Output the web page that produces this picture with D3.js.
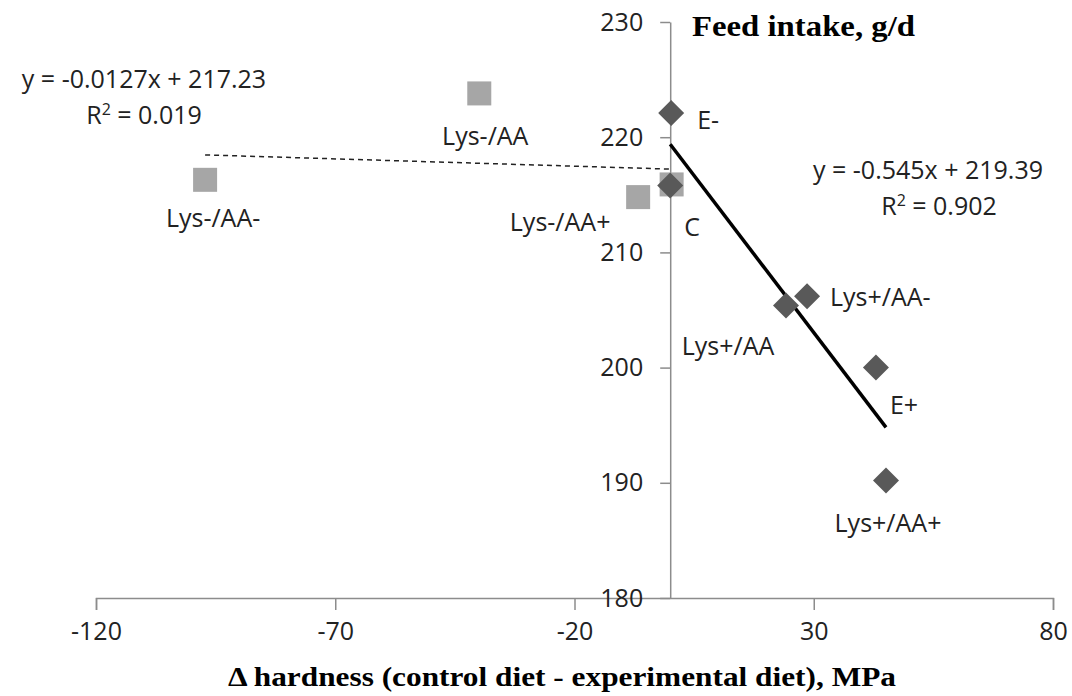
<!DOCTYPE html>
<html>
<head>
<meta charset="utf-8">
<script src="https://cdn.jsdelivr.net/npm/d3@7"></script>
<style>
  body { margin: 0; background: #fff; }
  text { font-family: "Open Sans", "Liberation Sans", sans-serif; }
</style>
</head>
<body>
<div id="chart"></div>
<script>
// diets with harder / softer pellets than control
const diamondLabels = ["E-", "C", "Lys+/AA", "Lys+/AA-", "E+", "Lys+/AA+"];
const diamondX = [0.2, 0.0, 24.2, 28.6, 43.0, 45.1];
const diamondY = [222.1, 215.8, 205.4, 206.2, 200.0, 190.2];

const squareLabels = ["Lys-/AA-", "Lys-/AA", "Lys-/AA+", ""];
const squareX = [-97.2, -39.9, -6.7, 0.3];
const squareY = [216.3, 223.8, 214.8, 215.9];

const xTicks = [-120, -70, -20, 30, 80];
const yTicks = [180, 190, 200, 210, 220, 230];

// trend lines as printed in the figure
const fitDiamond = { slope: -0.545, icept: 219.39, eq: "y = -0.545x + 219.39", r2: "0.902" };
const fitSquare = { slope: -0.0127, icept: 217.23, eq: "y = -0.0127x + 217.23", r2: "0.019" };

const W = 1072, H = 696;
const FS = 25;
const svg = d3.select("#chart").append("svg")
  .attr("width", W).attr("height", H);

const x = d3.scaleLinear().domain([-120, 80]).range([96, 1053]);
const y = d3.scaleLinear().domain([180, 230]).range([598, 22]);

const axisColor = "#8c8c8c";
const plainNum = d => String(d); // hyphen minus, like Excel

// x axis at y = 180
const gx = svg.append("g")
  .attr("transform", `translate(0,${y(180)})`)
  .call(d3.axisBottom(x).tickValues(xTicks).tickSize(12).tickPadding(12).tickFormat(plainNum));
gx.select(".domain").attr("stroke", axisColor).attr("stroke-width", 1.5);
gx.selectAll(".tick line").attr("stroke", axisColor).attr("stroke-width", 1.5);
gx.selectAll(".tick text").attr("font-size", FS).attr("fill", "#222")
  .style("font-family", "'Open Sans', sans-serif");

// y axis at x = 0
const gy = svg.append("g")
  .attr("transform", `translate(${x(0)},0)`)
  .call(d3.axisLeft(y).tickValues(yTicks).tickSize(10).tickPadding(17).tickSizeOuter(0).tickFormat(plainNum));
gy.select(".domain").attr("stroke", axisColor).attr("stroke-width", 1.5);
gy.selectAll(".tick line").attr("stroke", axisColor).attr("stroke-width", 1.5);
gy.selectAll(".tick text").attr("font-size", FS).attr("fill", "#222")
  .style("font-family", "'Open Sans', sans-serif");

// trend lines
const line = d3.line().x(d => x(d[0])).y(d => y(d[1]));
const sqMin = d3.min(squareX), sqMax = d3.max(squareX);
svg.append("path")
  .attr("d", line([[sqMin, fitSquare.icept + fitSquare.slope * sqMin], [sqMax, fitSquare.icept + fitSquare.slope * sqMax]]))
  .attr("stroke", "#222").attr("stroke-width", 1.5).attr("stroke-dasharray", "5,4").attr("fill", "none");

// squares
svg.selectAll("rect.sq")
  .data(squareX.map((v, i) => ({ x: v, y: squareY[i] })))
  .enter().append("rect")
  .attr("class", "sq")
  .attr("x", d => x(d.x) - 12).attr("y", d => y(d.y) - 12)
  .attr("width", 24).attr("height", 24)
  .attr("fill", "#a6a6a6");

const dMin = d3.min(diamondX), dMax = d3.max(diamondX);
svg.append("path")
  .attr("d", line([[dMin, fitDiamond.icept + fitDiamond.slope * dMin], [dMax, fitDiamond.icept + fitDiamond.slope * dMax]]))
  .attr("stroke", "#000").attr("stroke-width", 3.5).attr("fill", "none");

// diamonds
svg.selectAll("path.dm")
  .data(diamondX.map((v, i) => ({ x: v, y: diamondY[i] })))
  .enter().append("path")
  .attr("class", "dm")
  .attr("d", "M0,-13L13,0L0,13L-13,0Z")
  .attr("transform", d => `translate(${x(d.x)},${y(d.y)})`)
  .attr("fill", "#595959");

// point labels, offsets in px from the marker
const dOff = [[26, 16, "start"], [22, 50, "middle"], [-58, 50, "middle"], [23, 10, "start"], [14, 46, "start"], [2, 52, "middle"]];
const sOff = [[8, 47, "middle"], [6, 52, "middle"], [-78, 34, "middle"], [0, 0, "middle"]];

const lbl = svg.append("g").attr("font-size", FS).attr("fill", "#222");
diamondLabels.forEach((t, i) => {
  lbl.append("text").attr("x", x(diamondX[i]) + dOff[i][0]).attr("y", y(diamondY[i]) + dOff[i][1])
    .attr("text-anchor", dOff[i][2]).text(t);
});
squareLabels.forEach((t, i) => {
  if (!t) return;
  lbl.append("text").attr("x", x(squareX[i]) + sOff[i][0]).attr("y", y(squareY[i]) + sOff[i][1])
    .attr("text-anchor", sOff[i][2]).text(t);
});

// equations
function eqBlock(cx, cy, rx, fit) {
  lbl.append("text").attr("x", cx).attr("y", cy).attr("text-anchor", "middle").text(fit.eq);
  const r = lbl.append("text").attr("x", rx).attr("y", cy + 36).attr("text-anchor", "middle");
  r.append("tspan").text("R");
  r.append("tspan").attr("font-size", 16).attr("dy", -9).text("2");
  r.append("tspan").attr("dy", 9).text(" = " + fit.r2);
}
eqBlock(144, 88, 144, fitSquare);
eqBlock(928, 179, 939, fitDiamond);

// titles
svg.append("text").attr("x", 692).attr("y", 36)
  .style("font-family", "'Liberation Serif', 'Times New Roman', serif")
  .attr("font-weight", "bold").attr("font-size", 30).attr("fill", "#000")
  .attr("textLength", 223).attr("lengthAdjust", "spacingAndGlyphs")
  .text("Feed intake, g/d");

svg.append("text").attr("x", 562).attr("y", 686).attr("text-anchor", "middle")
  .style("font-family", "'Liberation Serif', 'Times New Roman', serif")
  .attr("font-weight", "bold").attr("font-size", 28).attr("fill", "#000")
  .attr("textLength", 668).attr("lengthAdjust", "spacingAndGlyphs")
  .text("Δ hardness (control diet - experimental diet), MPa");
</script>
</body>
</html>
